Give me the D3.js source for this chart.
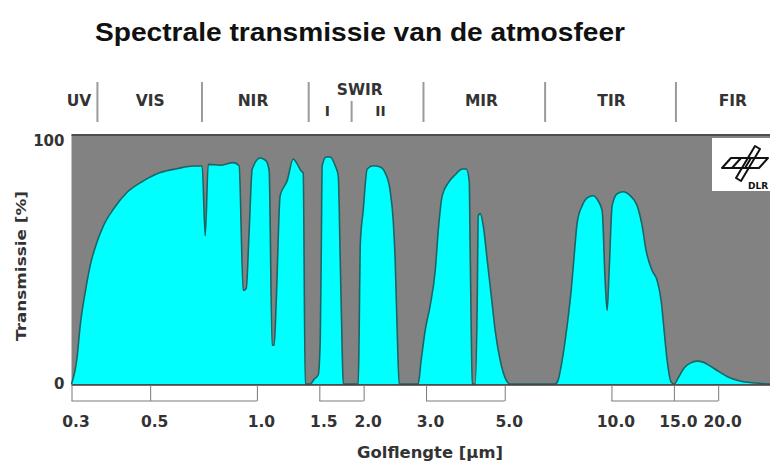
<!DOCTYPE html>
<html>
<head>
<meta charset="utf-8">
<script src="https://cdn.jsdelivr.net/npm/d3@7"></script>
<style>
  body { margin: 0; background: #ffffff; }
  text { font-family: "DejaVu Sans", Verdana, sans-serif; font-weight: bold; fill: #2a2a2a; }
</style>
</head>
<body>
<div id="chart"></div>
<script>
// values: wavelength in µm, transmission in %
const wavelength = [
  0.300, 0.3108, 0.3175, 0.3280, 0.3388, 0.3538, 0.3693, 0.3940, 0.4298, 0.4788,
  0.5337, 0.5948, 0.6627, 0.701, 0.715, 0.729, 0.788, 0.857, 0.891, 0.915,
  0.933, 0.951, 0.970, 1.022, 1.062, 1.083, 1.104, 1.119, 1.134, 1.163,
  1.217, 1.266, 1.299, 1.333, 1.351, 1.369, 1.414, 1.451, 1.489, 1.509,
  1.519, 1.528, 1.568, 1.609, 1.663, 1.696, 1.718, 1.740, 1.752, 1.931,
  1.943, 1.956, 1.994, 2.047, 2.128, 2.227, 2.301, 2.376, 2.424, 2.455,
  2.487, 2.519, 2.850, 2.906, 2.983, 3.082, 3.184, 3.247, 3.332, 3.464,
  3.626, 3.794, 3.894, 3.971, 3.996, 4.023, 4.049, 4.129, 4.183, 4.210,
  4.265, 4.349, 4.464, 4.581, 4.699, 4.854, 5.014, 5.179, 6.937, 7.073,
  7.261, 7.501, 7.698, 7.850, 8.005, 8.269, 8.542, 8.881, 9.174, 9.415,
  9.598, 9.725, 9.852, 10.044, 10.377, 10.789, 11.289, 11.813, 12.203, 12.524,
  13.021, 13.452, 13.806, 14.077, 14.355, 14.735, 15.024, 15.42, 16.03, 16.67,
  17.44, 18.14, 18.98, 19.99, 21.33, 23.06, 25.42, 28.0
];
const transmission = [
  0, 10.5, 24.2, 37.8, 48.8, 58.3, 65.2, 72.0, 78.8, 83.6,
  87.0, 88.6, 89.7, 89.7, 61, 90.4, 90, 91.1, 89.8, 38.5,
  39.3, 63, 88.5, 93.0, 91.8, 87.7, 16, 16, 34.4, 77.5,
  83.6, 92.6, 90.6, 87.7, 86.9, 0, 0, 2, 3.7, 18,
  55, 89.8, 93.4, 93.4, 89.8, 85.7, 51.6, 14, 0, 0,
  22, 57, 71.3, 88.5, 89.8, 89.3, 86.9, 79.5, 67.2, 50.8,
  22.1, 0, 0, 9.8, 22.1, 32.4, 46.7, 63.1, 77.5, 82.8,
  86.1, 88.5, 88.5, 83.6, 54.9, 22.1, 0, 0, 34.4, 69.3,
  70.1, 65.2, 50.8, 36.5, 22.1, 9.8, 2.5, 0, 0, 1.6,
  9.8, 24.2, 38.5, 52.9, 66.4, 73.4, 76.6, 77.5, 75.4, 71.3,
  42.6, 30.3, 46.7, 73.4, 78.3, 79.1, 77.5, 73.4, 65.2, 54.9,
  46.7, 42.6, 34.4, 22.1, 9.8, 0.8, 0, 2.5, 6.6, 8.6,
  9.4, 9.0, 7.4, 5.3, 2.9, 1.2, 0.4, 0
];

const tickValues = [0.3, 0.5, 1.0, 1.5, 2.0, 3.0, 5.0, 10.0, 15.0, 20.0];
const tickLabels = ["0.3", "0.5", "1.0", "1.5", "2.0", "3.0", "5.0", "10.0", "15.0", "20.0"];
const bracketSpans = [[0.3, 1.0], [1.5, 2.0], [3.0, 5.0], [10.0, 20.0]];
const yTicks = [0, 100];

// spectral bands above the plot
const bandBounds = [0.355, 0.7, 1.4, 2.95, 6.5, 15.2];
const swirSplit = 1.85;
const bandNames = ["UV", "VIS", "NIR", "SWIR", "MIR", "TIR", "FIR"];
const bandCenters = [0.315, 0.50, 0.975, 1.95, 4.3, 10.0, 22.0];
const subNames = ["I", "II"];
const subCenters = [1.58, 2.23];

const svgWidth = 770;
const svgHeight = 465;

const svg = d3.select("#chart").append("svg")
    .attr("width", svgWidth)
    .attr("height", svgHeight);

const xScale = d3.scaleLog()
    .domain([0.3, 28])
    .range([71.5, 770]);

const yScale = d3.scaleLinear()
    .domain([0, 100])
    .range([384, 141]);

const plotTop = 135;
const plotBottom = 385;

// title
svg.append("text")
    .attr("x", 95)
    .attr("y", 41)
    .attr("textLength", 530)
    .attr("lengthAdjust", "spacingAndGlyphs")
    .style("font-family", "'Liberation Sans', Arial, sans-serif")
    .style("font-size", "26px")
    .style("fill", "#111")
    .text("Spectrale transmissie van de atmosfeer");

// band separators and names
svg.selectAll(".band-sep").data(bandBounds)
    .enter().append("line")
    .attr("class", "band-sep")
    .attr("x1", d => xScale(d)).attr("x2", d => xScale(d))
    .attr("y1", 82).attr("y2", 122)
    .attr("stroke", "#9a9a9a")
    .attr("stroke-width", 2);

svg.append("line")
    .attr("x1", xScale(swirSplit)).attr("x2", xScale(swirSplit))
    .attr("y1", 101).attr("y2", 122)
    .attr("stroke", "#9a9a9a")
    .attr("stroke-width", 2);

svg.selectAll(".band-name").data(bandNames)
    .enter().append("text")
    .attr("class", "band-name")
    .attr("x", (d, i) => xScale(bandCenters[i]))
    .attr("y", d => d === "SWIR" ? 95 : 106)
    .attr("text-anchor", "middle")
    .style("font-size", "15.5px")
    .style("fill", "#333")
    .text(d => d);

svg.selectAll(".sub-name").data(subNames)
    .enter().append("text")
    .attr("class", "sub-name")
    .attr("x", (d, i) => xScale(subCenters[i]))
    .attr("y", 116)
    .attr("text-anchor", "middle")
    .style("font-size", "14px")
    .style("fill", "#333")
    .text(d => d);

// grey plot field
svg.append("rect")
    .attr("x", xScale(0.3))
    .attr("y", plotTop)
    .attr("width", xScale(28) - xScale(0.3))
    .attr("height", plotBottom - plotTop)
    .attr("fill", "#828282");

svg.append("line")
    .attr("x1", xScale(0.3)).attr("x2", xScale(28))
    .attr("y1", plotTop).attr("y2", plotTop)
    .attr("stroke", "#4d4d4d")
    .attr("stroke-width", 2);

const data = wavelength.map((w, i) => ({ w: w, t: transmission[i] }));

const area = d3.area()
    .x(d => xScale(d.w))
    .y0(yScale(0))
    .y1(d => yScale(d.t))
    .curve(d3.curveMonotoneX);

const line = d3.line()
    .x(d => xScale(d.w))
    .y(d => yScale(d.t))
    .curve(d3.curveMonotoneX);

svg.append("path")
    .datum(data)
    .attr("d", area)
    .attr("fill", "#00ffff");

svg.append("path")
    .datum(data)
    .attr("d", line)
    .attr("fill", "none")
    .attr("stroke", "#1d6464")
    .attr("stroke-width", 1.6);

svg.append("line")
    .attr("x1", xScale(0.3)).attr("x2", xScale(28))
    .attr("y1", plotBottom).attr("y2", plotBottom)
    .attr("stroke", "#3d3d3d")
    .attr("stroke-width", 1.5);

// DLR logo box
const logo = svg.append("g");
logo.append("rect")
    .attr("x", 712).attr("y", 138)
    .attr("width", 58).attr("height", 53)
    .attr("fill", "#ffffff");
logo.append("path")
    .attr("d", "M722,168 L731,158 L768,158 L759,168 Z M755,146 L760,149 L741,181 L736,178 Z M732,168 L741,158 M745,168 L751,158")
    .attr("fill", "none")
    .attr("stroke", "#111")
    .attr("stroke-width", 2)
    .attr("stroke-linejoin", "round");
logo.append("text")
    .attr("x", 748).attr("y", 189)
    .style("font-size", "9px")
    .style("fill", "#111")
    .text("DLR");

// x axis: bracket strip under the plot
const xAxis = d3.axisBottom(xScale)
    .tickValues(tickValues)
    .tickFormat((d, i) => tickLabels[i])
    .tickSize(16)
    .tickPadding(15);

const xAxisG = svg.append("g")
    .attr("transform", `translate(0, ${plotBottom})`)
    .call(xAxis);

xAxisG.select(".domain").remove();
xAxisG.selectAll(".tick line").attr("stroke", "#7a7a7a");
xAxisG.selectAll(".tick text")
    .attr("dx", 4)
    .style("font-size", "15.5px")
    .style("font-family", "'DejaVu Sans', Verdana, sans-serif")
    .style("fill", "#333");

xAxisG.selectAll(".bracket").data(bracketSpans)
    .enter().append("line")
    .attr("class", "bracket")
    .attr("x1", d => xScale(d[0]))
    .attr("x2", d => xScale(d[1]))
    .attr("y1", 16).attr("y2", 16)
    .attr("stroke", "#7a7a7a");

svg.append("text")
    .attr("x", 430)
    .attr("y", 458)
    .attr("text-anchor", "middle")
    .attr("textLength", 146)
    .attr("lengthAdjust", "spacingAndGlyphs")
    .style("font-size", "15.5px")
    .style("fill", "#333")
    .text("Golflengte [µm]");

// y axis
const yAxis = d3.axisLeft(yScale)
    .tickValues(yTicks)
    .tickSize(0)
    .tickPadding(7);

const yAxisG = svg.append("g")
    .attr("transform", `translate(${xScale(0.3)}, 0)`)
    .call(yAxis);

yAxisG.select(".domain").remove();
yAxisG.selectAll(".tick text")
    .style("font-size", "15px")
    .style("font-family", "'DejaVu Sans', Verdana, sans-serif")
    .style("fill", "#333");

svg.append("text")
    .attr("transform", "rotate(-90)")
    .attr("x", -266)
    .attr("y", 26)
    .attr("text-anchor", "middle")
    .attr("textLength", 150)
    .attr("lengthAdjust", "spacingAndGlyphs")
    .style("font-size", "14.5px")
    .style("fill", "#333")
    .text("Transmissie [%]");
</script>
</body>
</html>
